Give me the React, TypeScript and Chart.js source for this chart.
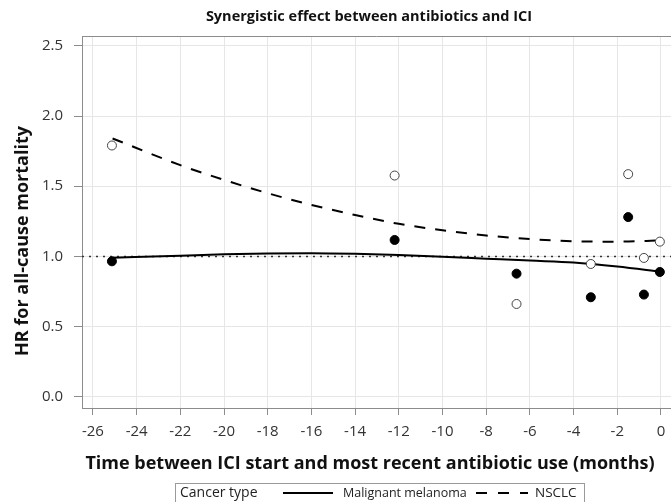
import React, { useEffect, useRef } from "react";
import { Chart, registerables } from "chart.js";

Chart.register(...registerables);

// ---- text ----
const TITLE = "Synergistic effect between antibiotics and ICI";
const X_TITLE = "Time between ICI start and most recent antibiotic use (months)";
const Y_TITLE = "HR for all-cause mortality";
const LEGEND_TITLE = "Cancer type";
const SERIES_NAMES = ["Malignant melanoma", "NSCLC"];

// ---- ticks ----
const xTicks = [-26, -24, -22, -20, -18, -16, -14, -12, -10, -8, -6, -4, -2, 0];
const yTicks = [0, 0.5, 1, 1.5, 2, 2.5];
const X_MIN = -26.5;
const X_MAX = 0.46;
const Y_MIN = -0.08;
const Y_MAX = 2.57;
const REF_HR = 1;

// ---- observed HRs ----
const pointTimes = [-25.13, -12.19, -6.61, -3.21, -1.5, -0.78, -0.05];
const melanomaHR = [0.965, 1.117, 0.877, 0.709, 1.28, 0.728, 0.889];
const nsclcHR = [1.79, 1.576, 0.661, 0.946, 1.586, 0.989, 1.105];

// ---- fitted curves ----
const curveTimes = [-25.1, -22, -20, -18, -16, -14, -12, -10, -8, -6, -4, -2, 0];
const melanomaFit = [0.99, 1.005, 1.015, 1.02, 1.022, 1.018, 1.01, 0.998, 0.984, 0.97, 0.957, 0.928, 0.89];
const nsclcFit = [1.84, 1.65, 1.545, 1.45, 1.367, 1.295, 1.232, 1.186, 1.149, 1.123, 1.108, 1.105, 1.114];

const FONT = "'Open Sans', 'Noto Sans', sans-serif";

const textPlugin = {
  id: "customText",
  afterDraw(chart: any) {
    const ctx = chart.ctx as CanvasRenderingContext2D;
    const a = chart.chartArea;
    ctx.save();
    ctx.strokeStyle = "#8c8c8c";
    ctx.lineWidth = 1;
    ctx.beginPath();
    ctx.moveTo(a.left, a.top + 0.5);
    ctx.lineTo(a.right, a.top + 0.5);
    ctx.stroke();

    ctx.fillStyle = "#111";
    ctx.textAlign = "center";
    ctx.textBaseline = "middle";
    ctx.font = `bold 14.5px ${FONT}`;
    ctx.fillText(TITLE, 369, 17);

    ctx.font = `bold 18px ${FONT}`;
    ctx.fillText(X_TITLE, 370, 464);

    ctx.save();
    ctx.translate(23, 241);
    ctx.rotate(-Math.PI / 2);
    ctx.fillText(Y_TITLE, 0, 0);
    ctx.restore();

    // legend
    ctx.strokeStyle = "#9a9a9a";
    ctx.lineWidth = 1;
    ctx.strokeRect(175.5, 483.5, 409, 22);
    ctx.textAlign = "left";
    ctx.fillStyle = "#222";
    ctx.font = `14px ${FONT}`;
    ctx.fillText(LEGEND_TITLE, 180, 493);
    ctx.strokeStyle = "#000";
    ctx.lineWidth = 2;
    ctx.beginPath();
    ctx.moveTo(283, 493);
    ctx.lineTo(333, 493);
    ctx.stroke();
    ctx.font = `12.5px ${FONT}`;
    ctx.fillText(SERIES_NAMES[0], 343, 493);
    ctx.setLineDash([11, 11]);
    ctx.beginPath();
    ctx.moveTo(476, 493);
    ctx.lineTo(528, 493);
    ctx.stroke();
    ctx.setLineDash([]);
    ctx.font = `13.5px ${FONT}`;
    ctx.fillText(SERIES_NAMES[1], 535, 493);
    ctx.restore();
  },
};

export default function App() {
  const ref = useRef<HTMLCanvasElement>(null);
  useEffect(() => {
    if (!ref.current) return;
    const chart = new Chart(ref.current, {
      type: "line",
      data: {
        datasets: [
          {
            label: SERIES_NAMES[1] + " points",
            type: "scatter",
            data: pointTimes.map((x, i) => ({ x, y: nsclcHR[i] })),
            backgroundColor: "#ffffff",
            borderColor: "#444",
            borderWidth: 1,
            pointRadius: 4.5,
          } as any,
          {
            label: SERIES_NAMES[0] + " points",
            type: "scatter",
            data: pointTimes.map((x, i) => ({ x, y: melanomaHR[i] })),
            backgroundColor: "#000",
            borderColor: "#000",
            borderWidth: 1,
            pointRadius: 4.5,
          } as any,
          {
            label: SERIES_NAMES[0],
            data: curveTimes.map((x, i) => ({ x, y: melanomaFit[i] })),
            borderColor: "#000",
            borderWidth: 2,
            pointRadius: 0,
            cubicInterpolationMode: "monotone",
            fill: false,
          },
          {
            label: SERIES_NAMES[1],
            data: curveTimes.map((x, i) => ({ x, y: nsclcFit[i] })),
            borderColor: "#000",
            borderWidth: 2,
            borderDash: [11, 10],
            pointRadius: 0,
            cubicInterpolationMode: "monotone",
            fill: false,
          },
          {
            label: "Reference",
            data: [
              { x: X_MIN, y: REF_HR },
              { x: X_MAX, y: REF_HR },
            ],
            borderColor: "#333",
            borderWidth: 1.5,
            borderDash: [2, 5],
            pointRadius: 0,
            fill: false,
          },
        ],
      },
      options: {
        animation: false,
        responsive: false,
        devicePixelRatio: 1,
        layout: { autoPadding: false, padding: { top: 36, left: 0, right: 0, bottom: 0 } },
        plugins: {
          legend: { display: false },
          title: { display: false },
          tooltip: { enabled: false },
        },
        scales: {
          x: {
            type: "linear",
            min: X_MIN,
            max: X_MAX,
            afterFit: (s: any) => {
              s.height = 94;
              s.paddingLeft = 0;
              s.paddingRight = 0;
            },
            afterBuildTicks: (s: any) => {
              s.ticks = xTicks.map((v) => ({ value: v }));
            },
            grid: { color: "#e6e6e6", tickColor: "#8c8c8c", tickLength: 7 },
            border: { color: "#8c8c8c", width: 1 },
            ticks: {
              color: "#333",
              font: { family: FONT, size: 15 },
              padding: 8,
              maxRotation: 0,
              autoSkip: false,
            },
          },
          y: {
            type: "linear",
            min: Y_MIN,
            max: Y_MAX,
            afterFit: (s: any) => {
              s.width = 82;
              s.paddingTop = 0;
              s.paddingBottom = 0;
            },
            afterBuildTicks: (s: any) => {
              s.ticks = yTicks.map((v) => ({ value: v }));
            },
            grid: { color: "#e6e6e6", tickColor: "#8c8c8c", tickLength: 8 },
            border: { color: "#8c8c8c", width: 1 },
            ticks: {
              color: "#333",
              font: { family: FONT, size: 15 },
              padding: 11,
              callback: (v: any) => Number(v).toFixed(1),
            },
          },
        },
      },
      plugins: [textPlugin],
    });
    return () => chart.destroy();
  }, []);
  return (
    <div style={{ position: "fixed", left: 0, top: 0, width: 671, height: 502, background: "#fff" }}>
      <canvas ref={ref} width={671} height={502} style={{ display: "block" }} />
    </div>
  );
}
